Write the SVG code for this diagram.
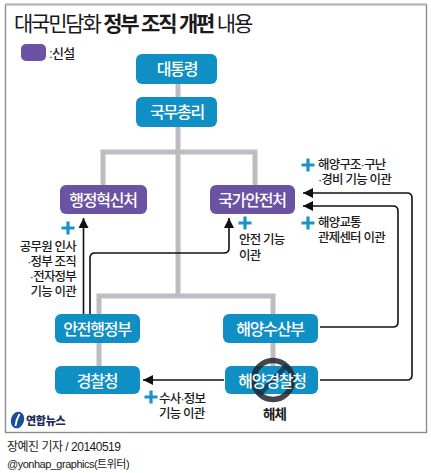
<svg xmlns="http://www.w3.org/2000/svg" width="431" height="473" viewBox="0 0 431 473">
<defs>
<marker id="ah" markerUnits="userSpaceOnUse" markerWidth="11" markerHeight="10" refX="10" refY="5" orient="auto"><path d="M0 0L10 5L0 10Z" fill="#111"/></marker>
<path id="plus" d="M-6.500 -1.600H-1.600V-6.500H1.600V-1.600H6.500V1.600H1.600V6.500H-1.600V1.600H-6.500Z" fill="#1a94c8"/>
</defs>
<style>
text{font-family:"Liberation Sans","Noto Sans CJK KR",sans-serif;fill:#1a1a1a}
.n{font-size:16px;font-weight:500;fill:#fff;text-anchor:middle;letter-spacing:-1.200px}
.b{fill:#0f8fc4}
.p{fill:#6b52a3}
.g{stroke:#bdbdc1;stroke-width:5;fill:none}
.a{stroke:#111;stroke-width:1.600;fill:none;marker-end:url(#ah)}
.t{font-size:12.500px;font-weight:500;letter-spacing:-.8px}
</style>
<rect x="5.500" y="4.500" width="421" height="428" fill="#fff" stroke="#8c8c8c" stroke-width="1.400"/>
<path d="M5 4.500H427" stroke="#b5b5b5" stroke-width="2"/>
<text x="14" y="31" font-size="21" letter-spacing="-2.200">대국민담화 <tspan font-weight="700">정부 조직 개편</tspan> 내용</text>
<rect x="21" y="44" width="25" height="17" rx="5" class="p"/>
<text x="49" y="58" font-size="13" font-weight="500" letter-spacing="-.6">:신설</text>
<g id="connectors">
<path class="g" d="M178 84V97M178 127V296M103 185V152H255V185M99 314V296H273V314M99 343V366M273 343V366"/>
<path class="a" d="M83.500 314V218"/>
<path class="a" d="M90 314V258Q90 253 95 253H224Q229 253 229 248V218"/>
<path class="a" d="M320 327H393Q398 327 398 322V211Q398 206 393 206H303"/>
<path class="a" d="M320 380H407Q412 380 412 375V198Q412 193 407 193H303"/>
<path class="a" d="M224 380H143"/>
</g>
<g id="n1"><rect x="136" y="54" width="81" height="30" rx="6" class="b"/><text x="177" y="75" class="n">대통령</text></g>
<g id="n2"><rect x="136" y="97" width="81" height="30" rx="6" class="b"/><text x="177" y="118" class="n">국무총리</text></g>
<g id="n3"><rect x="60" y="185" width="87" height="29" rx="6" class="p"/><text x="103" y="205.500" class="n">행정혁신처</text></g>
<g id="n4"><rect x="210" y="185" width="85" height="29" rx="6" class="p"/><text x="252" y="205.500" class="n">국가안전처</text></g>
<g id="n5"><rect x="55" y="314" width="85" height="29" rx="6" class="b"/><text x="97" y="334.500" class="n">안전행정부</text></g>
<g id="n6"><rect x="55" y="366" width="85" height="28" rx="6" class="b"/><text x="97" y="386.500" class="n">경찰청</text></g>
<g id="n7"><rect x="223" y="314" width="95" height="29" rx="6" class="b"/><text x="270" y="334.500" class="n">해양수산부</text></g>
<g id="n8"><rect x="225" y="366" width="93" height="28" rx="6" class="b"/>
<circle cx="273" cy="380" r="19.500" fill="none" stroke="#20272c" stroke-opacity=".85" stroke-width="5.500"/>
<path d="M259 395L287 365" stroke="#10364f" stroke-opacity=".8" stroke-width="5"/>
<text x="272" y="386.500" class="n">해양경찰청</text></g>
<use href="#plus" x="68" y="228"/>
<use href="#plus" x="245" y="223"/>
<use href="#plus" x="308" y="165"/>
<use href="#plus" x="308" y="223"/>
<use href="#plus" x="151" y="397"/>
<g class="t">
<text x="76" y="251" text-anchor="end">공무원 인사</text>
<text x="76" y="266" text-anchor="end">·정부 조직</text>
<text x="76" y="281" text-anchor="end">·전자정부</text>
<text x="76" y="296" text-anchor="end">기능 이관</text>
<text x="239" y="244">안전 기능</text>
<text x="239" y="260">이관</text>
<text x="318" y="169">해양구조·구난</text>
<text x="318" y="184">·경비 기능 이관</text>
<text x="318" y="227">해양교통</text>
<text x="318" y="242">관제센터 이관</text>
<text x="159" y="403">수사·정보</text>
<text x="159" y="418">기능 이관</text>
<text x="263" y="419" font-weight="700" style="font-size:13.500px">해체</text>
</g>
<g id="logo">
<ellipse cx="17.500" cy="420" rx="6.500" ry="8.500" transform="rotate(18 17.500 420)" fill="#1b4f9c"/>
<path d="M19.500 414Q16 420 15.500 426" stroke="#fff" stroke-width="1.800" fill="none"/>
<text x="26" y="425" font-size="11" font-weight="900" letter-spacing="-.3" style="fill:#1a2a5a">연합뉴스</text>
</g>
<text x="7" y="451" font-size="12" letter-spacing="-.5">장예진 기자 / 20140519</text>
<text x="7" y="468" font-size="11" letter-spacing="-.5">@yonhap_graphics(트위터)</text>
</svg>
